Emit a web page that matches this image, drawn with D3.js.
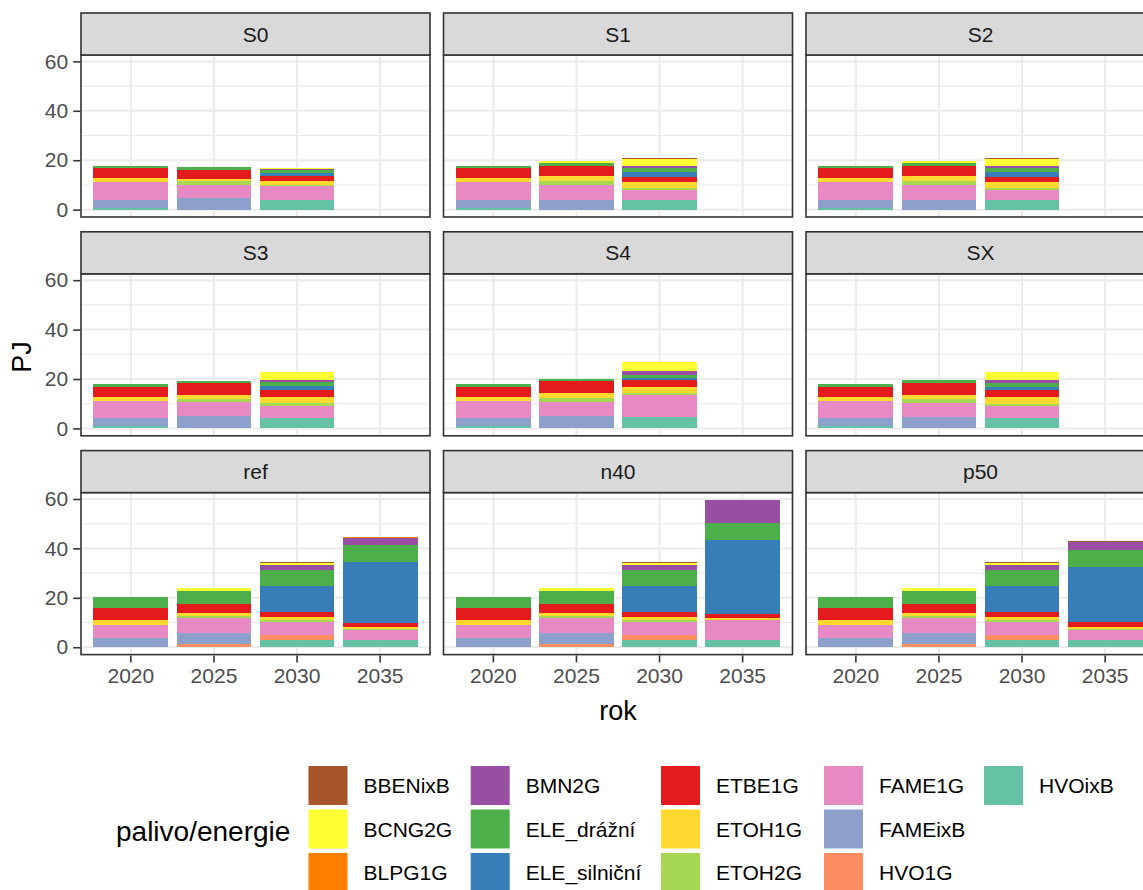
<!DOCTYPE html>
<html>
<head>
<meta charset="utf-8">
<script src="https://cdn.jsdelivr.net/npm/d3@7"></script>
<style>
  html, body { margin: 0; padding: 0; background: #fff; overflow: hidden; }
  svg { display: block; font-family: "Liberation Sans", Arial, sans-serif; }
</style>
</head>
<body>
<svg id="chart" width="1143" height="890"></svg>
<script>
// Fuels / energy carriers in legend order, with their fill colours
const fuels = ["BBENixB", "BCNG2G", "BLPG1G", "BMN2G", "ELE_drážní", "ELE_silniční",
               "ETBE1G", "ETOH1G", "ETOH2G", "FAME1G", "FAMEixB", "HVO1G", "HVOixB"];
const fuelColors = ["#A65628", "#FFFF33", "#FF7F00", "#984EA3", "#4DAF4A", "#377EB8",
                    "#E41A1C", "#FFD92F", "#A6D854", "#E78AC3", "#8DA0CB", "#FC8D62", "#66C2A5"];

const years = ["2020", "2025", "2030", "2035"];
const scenarios = ["S0", "S1", "S2", "S3", "S4", "SX", "ref", "n40", "p50"];
const yTicks = [0, 20, 40, 60];
const yMinorTicks = [10, 30, 50];

// Energy use in PJ: one row per year (2020, 2025, 2030, 2035), values in `fuels` order.
// null = no data for that year.
const S0 = [
  [0, 0, 0, 0, 1.0, 0, 4.1, 1.6, 0, 7.0, 3.3, 0, 0.8],
  [0, 0, 0, 0, 1.0, 0, 3.7, 0.8, 1.5, 5.5, 4.6, 0, 0],
  [0, 0.2, 0, 0.3, 1.3, 1.2, 2.3, 1.5, 0.3, 5.5, 0, 0, 4.1],
  null
];
const S1 = [
  [0, 0, 0, 0, 1.0, 0, 4.1, 1.6, 0, 7.0, 3.3, 0, 0.8],
  [0, 0.5, 0, 0, 1.2, 0.2, 4.0, 1.9, 1.6, 6.0, 4.1, 0, 0],
  [0.4, 2.7, 0, 0.6, 1.6, 2.0, 2.4, 2.2, 0.7, 4.3, 0, 0, 3.8],
  null
];
const S2 = [
  [0, 0, 0, 0, 1.0, 0, 4.1, 1.6, 0, 7.0, 3.3, 0, 0.8],
  [0, 0.5, 0, 0, 1.2, 0.2, 4.0, 1.9, 1.6, 6.0, 4.1, 0, 0],
  [0.4, 2.7, 0, 0.6, 1.6, 2.0, 2.4, 2.2, 0.7, 4.3, 0, 0, 3.8],
  null
];
const S3 = [
  [0, 0, 0, 0, 1.0, 0, 4.1, 1.6, 0, 7.0, 3.3, 0, 0.8],
  [0, 0, 0, 0, 1.0, 0, 4.7, 1.5, 1.5, 5.6, 4.9, 0, 0],
  [0, 3.2, 0, 0.9, 1.4, 1.6, 3.1, 2.3, 1.1, 5.0, 0, 0, 4.2],
  null
];
const S4 = [
  [0, 0, 0, 0, 1.0, 0, 4.1, 1.6, 0, 7.0, 3.3, 0, 0.8],
  [0, 0, 0, 0, 1.1, 0, 4.6, 2.1, 1.8, 5.4, 5.2, 0, 0],
  [0, 3.4, 0, 1.8, 1.0, 0.8, 3.0, 2.4, 1.0, 8.9, 0, 0, 4.5],
  null
];
const SX = [
  [0, 0, 0, 0, 1.0, 0, 4.1, 1.6, 0, 7.0, 3.3, 0, 0.8],
  [0, 0, 0, 0, 1.0, 0, 4.8, 1.8, 1.6, 5.5, 4.8, 0, 0],
  [0, 3.3, 0, 1.3, 1.5, 1.3, 2.9, 2.6, 1.1, 4.8, 0, 0, 4.1],
  null
];
const ref = [
  [0, 0, 0, 0, 4.8, 0, 4.5, 2.3, 0, 5.2, 3.7, 0, 0],
  [0, 1.1, 0, 0, 5.4, 0.2, 3.4, 1.4, 0.5, 6.3, 4.3, 1.4, 0],
  [0.4, 0.6, 0.3, 2.0, 6.4, 10.3, 2.0, 1.4, 0.9, 5.0, 0.3, 1.7, 3.1],
  [0.2, 0, 0.2, 3.1, 6.8, 24.6, 1.6, 0.9, 0.5, 3.7, 0, 0, 3.1]
];
const n40 = [
  [0, 0, 0, 0, 4.8, 0, 4.5, 2.3, 0, 5.2, 3.7, 0, 0],
  [0, 1.1, 0, 0, 5.4, 0.2, 3.4, 1.4, 0.5, 6.3, 4.3, 1.4, 0],
  [0.4, 0.6, 0.3, 2.0, 6.4, 10.3, 2.0, 1.4, 0.9, 5.0, 0.3, 1.7, 3.1],
  [0, 0, 0, 9.5, 6.9, 29.6, 1.6, 0.8, 0.3, 7.8, 0, 0, 3.1]
];
const p50 = [
  [0, 0, 0, 0, 4.8, 0, 4.5, 2.3, 0, 5.2, 3.7, 0, 0],
  [0, 1.1, 0, 0, 5.4, 0.2, 3.4, 1.4, 0.5, 6.3, 4.3, 1.4, 0],
  [0.4, 0.6, 0.3, 2.0, 6.4, 10.3, 2.0, 1.4, 0.9, 5.0, 0.3, 1.7, 3.1],
  [0.4, 0, 0, 3.3, 7.0, 22.1, 2.0, 0.7, 0.4, 4.0, 0, 0, 3.1]
];
const scenarioValues = [S0, S1, S2, S3, S4, SX, ref, n40, p50];

// ---- layout ----
const svg = d3.select("#chart");
const colLeft0 = 81, colStep = 362.5, panelW = 349;
const rowTop0 = 13, rowStep = 218.8, stripH = 42, panelH = 162;
const border = "#333333";
const gridCol = "#EBEBEB";
const tickCol = "#4D4D4D";

const color = d3.scaleOrdinal().domain(fuels).range(fuelColors);

// Rows for stacking
const rows = [];
scenarios.forEach((s, si) => {
  scenarioValues[si].forEach((vals, yi) => {
    if (!vals) return;
    const r = { scenario: s, year: years[yi] };
    fuels.forEach((f, fi) => { r[f] = vals[fi]; });
    rows.push(r);
  });
});

// first fuel level sits on top of the stack
const stack = d3.stack().keys(fuels.slice().reverse());
const series = stack(rows);
const maxTotal = d3.max(rows, r => d3.sum(fuels, f => r[f]));

scenarios.forEach((s, i) => {
  const col = i % 3, row = Math.floor(i / 3);
  const left = colLeft0 + col * colStep;
  const top = rowTop0 + row * rowStep;
  const pTop = top + stripH, pBottom = pTop + panelH;

  const x = d3.scaleBand().domain(years).range([left, left + panelW])
    .paddingInner(0.1).paddingOuter(0.15);
  const y = d3.scaleLinear().domain([-0.05 * maxTotal, 1.05 * maxTotal]).range([pBottom, pTop]);

  const g = svg.append("g").attr("class", "panel");
  g.append("rect").attr("x", left).attr("y", pTop).attr("width", panelW).attr("height", panelH)
    .attr("fill", "#fff");

  // grid
  g.selectAll(".gminor").data(yMinorTicks).join("line")
    .attr("x1", left).attr("x2", left + panelW)
    .attr("y1", d => y(d)).attr("y2", d => y(d))
    .attr("stroke", gridCol).attr("stroke-width", 1.1);
  g.selectAll(".gmajor").data(yTicks).join("line")
    .attr("x1", left).attr("x2", left + panelW)
    .attr("y1", d => y(d)).attr("y2", d => y(d))
    .attr("stroke", gridCol).attr("stroke-width", 2);
  g.selectAll(".gx").data(years).join("line")
    .attr("x1", d => x(d) + x.bandwidth() / 2).attr("x2", d => x(d) + x.bandwidth() / 2)
    .attr("y1", pTop).attr("y2", pBottom)
    .attr("stroke", gridCol).attr("stroke-width", 2);

  // stacked bars
  series.forEach(ser => {
    g.append("g").attr("fill", color(ser.key))
      .selectAll("rect")
      .data(ser.filter(d => d.data.scenario === s && d[1] > d[0]))
      .join("rect")
      .attr("x", d => x(d.data.year))
      .attr("width", x.bandwidth())
      .attr("y", d => y(d[1]))
      .attr("height", d => y(d[0]) - y(d[1]))
      .attr("shape-rendering", "crispEdges");
  });

  // panel border
  g.append("rect").attr("x", left).attr("y", pTop).attr("width", panelW).attr("height", panelH)
    .attr("fill", "none").attr("stroke", border).attr("stroke-width", 1.6);

  // strip
  g.append("rect").attr("x", left).attr("y", top).attr("width", panelW).attr("height", stripH)
    .attr("fill", "#D9D9D9").attr("stroke", border).attr("stroke-width", 1.6);
  g.append("text").attr("x", left + panelW / 2).attr("y", top + stripH / 2)
    .attr("text-anchor", "middle").attr("dominant-baseline", "central")
    .attr("font-size", 21).attr("fill", "#1A1A1A").text(s);

  // y axis on first column
  if (col === 0) {
    const ay = g.append("g").attr("transform", `translate(${left - 0.8},0)`)
      .call(d3.axisLeft(y).tickValues(yTicks).tickSize(7).tickPadding(5).tickFormat(d3.format("d")));
    ay.select(".domain").remove();
    ay.selectAll(".tick line").attr("stroke", border).attr("stroke-width", 1.6);
    ay.selectAll(".tick text").attr("font-size", 21).attr("fill", tickCol)
      .attr("font-family", "'Liberation Sans', Arial, sans-serif");
  }
  // x axis on bottom row
  if (row === 2) {
    const ax = g.append("g").attr("transform", `translate(0,${pBottom + 0.8})`)
      .call(d3.axisBottom(x).tickSize(7).tickPadding(6));
    ax.select(".domain").remove();
    ax.selectAll(".tick line").attr("stroke", border).attr("stroke-width", 1.6);
    ax.selectAll(".tick text").attr("font-size", 21).attr("fill", tickCol)
      .attr("font-family", "'Liberation Sans', Arial, sans-serif");
  }
});

// axis titles
svg.append("text").attr("transform", "translate(22,357) rotate(-90)")
  .attr("text-anchor", "middle").attr("dominant-baseline", "central")
  .attr("font-size", 27).attr("fill", "#000").text("PJ");
svg.append("text").attr("x", 618).attr("y", 711)
  .attr("text-anchor", "middle").attr("dominant-baseline", "central")
  .attr("font-size", 27).attr("fill", "#000").text("rok");

// legend
const legendColX = [308.5, 470.7, 661, 824, 984];
const legendRowY = [766, 809.5, 853];
const keySize = 39;
svg.append("text").attr("x", 116).attr("y", 831)
  .attr("dominant-baseline", "central")
  .attr("font-size", 28).attr("fill", "#000").text("palivo/energie");
const lg = svg.append("g").attr("class", "legend");
fuels.forEach((f, i) => {
  const c = Math.floor(i / 3), r = i % 3;
  const kx = legendColX[c], ky = legendRowY[r];
  lg.append("rect").attr("x", kx).attr("y", ky).attr("width", keySize).attr("height", keySize)
    .attr("fill", color(f));
  lg.append("text").attr("x", kx + 55).attr("y", ky + keySize / 2)
    .attr("dominant-baseline", "central")
    .attr("font-size", 21).attr("fill", "#000").text(f);
});
</script>
</body>
</html>
